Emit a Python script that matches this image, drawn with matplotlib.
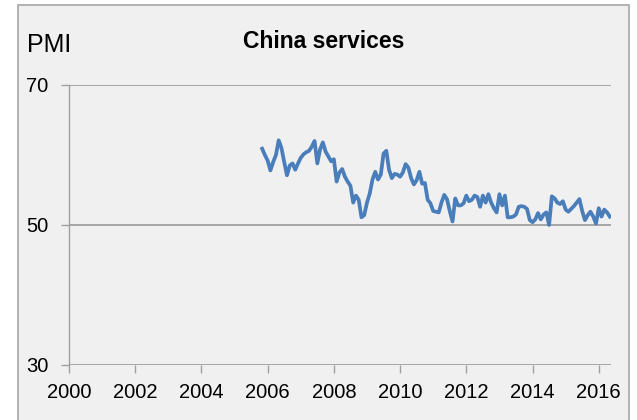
import numpy as np
import pandas as pd
import matplotlib
matplotlib.use("Agg")
import matplotlib.pyplot as plt
from matplotlib.patches import Rectangle

plt.rcParams["font.family"] = ["Liberation Sans Narrow", "Liberation Sans", "DejaVu Sans"]

# ======================
# 数据：中国服务业 PMI（月度，2005-11 起）
# ======================
start_month = "2005-11"
pmi = [
    60.9, 60.0,                                                          # 2005
    59.2, 57.8, 59.0, 60.0, 62.1, 61.0, 59.0, 57.1, 58.5, 58.8, 57.9, 58.8,  # 2006
    59.6, 60.1, 60.4, 60.6, 61.2, 62.0, 58.8, 60.8, 61.8, 60.5, 59.8, 59.1,  # 2007
    59.4, 56.2, 57.5, 58.0, 56.9, 56.2, 55.6, 53.2, 54.2, 53.6, 51.1, 51.4,  # 2008
    53.2, 54.5, 56.5, 57.6, 56.5, 57.2, 60.2, 60.6, 57.9, 56.7, 57.3, 57.2,  # 2009
    56.9, 57.5, 58.7, 58.2, 56.7, 55.8, 56.4, 57.6, 55.9, 56.0, 53.6, 53.1,  # 2010
    52.0, 51.9, 51.8, 53.2, 54.3, 53.7, 52.0, 50.5, 53.8, 52.8, 52.8, 53.1,  # 2011
    54.2, 53.4, 53.6, 54.2, 54.0, 52.6, 54.2, 53.2, 54.4, 53.2, 52.4, 51.8,  # 2012
    54.4, 52.8, 54.2, 51.1, 51.1, 51.2, 51.5, 52.6, 52.7, 52.6, 52.3, 50.7,  # 2013
    50.4, 50.8, 51.7, 50.8, 51.5, 51.8, 50.0, 54.1, 53.8, 53.2, 53.0, 53.4,  # 2014
    52.2, 51.9, 52.3, 52.7, 53.2, 53.7, 52.0, 50.7, 51.4, 51.9, 51.2, 50.2,  # 2015
    52.4, 51.2, 52.2, 51.8, 51.2,                                        # 2016
]
x_ticks = [2000, 2002, 2004, 2006, 2008, 2010, 2012, 2014, 2016]
y_ticks = [30, 50, 70]

dates = pd.date_range(start_month, periods=len(pmi), freq="MS")
t = dates.year + (dates.month - 1) / 12.0

fig = plt.figure(figsize=(6.37, 4.2), dpi=100)
fig.patch.set_facecolor("white")

# 外框 + 灰底
fig.patches.append(Rectangle((18 / 637, -0.05), (629 - 18) / 637, 1.05 - 5 / 420,
                             transform=fig.transFigure, facecolor="#F0F0F0",
                             edgecolor="#A6A6A6", linewidth=1.2, zorder=0))

ax = fig.add_axes([69 / 637, 1 - 365 / 420, (611 - 69) / 637, (365 - 85) / 420])
ax.set_zorder(2)
ax.set_facecolor("none")

ax.plot(t, pmi, color="#4A7EBB", linewidth=2.7, solid_joinstyle="round", zorder=3)

ax.set_xlim(2000, 2016.37)
ax.set_ylim(30, 70)
ax.set_xticks(x_ticks)
ax.set_yticks(y_ticks)
ax.grid(axis="y", color="#A0A0A0", linewidth=1.3)
for s in ["top", "right", "bottom"]:
    ax.spines[s].set_visible(False)
ax.spines["left"].set_color("#A0A0A0")
ax.spines["left"].set_linewidth(1.0)
ax.tick_params(axis="both", colors="#A0A0A0", labelcolor="black", labelsize=14.5,
               length=6, width=1.0)
ax.tick_params(axis="x", pad=7)
ax.tick_params(axis="y", pad=9)

fig.text(27 / 637, 1 - 45 / 420, "PMI", family="Liberation Sans", fontsize=18,
         va="center", ha="left")
fig.text(324 / 637, 1 - 42 / 420, "China services", fontsize=16.5, fontweight="bold",
         va="center", ha="center")

fig.savefig("out.png", dpi=100, facecolor=fig.get_facecolor())
